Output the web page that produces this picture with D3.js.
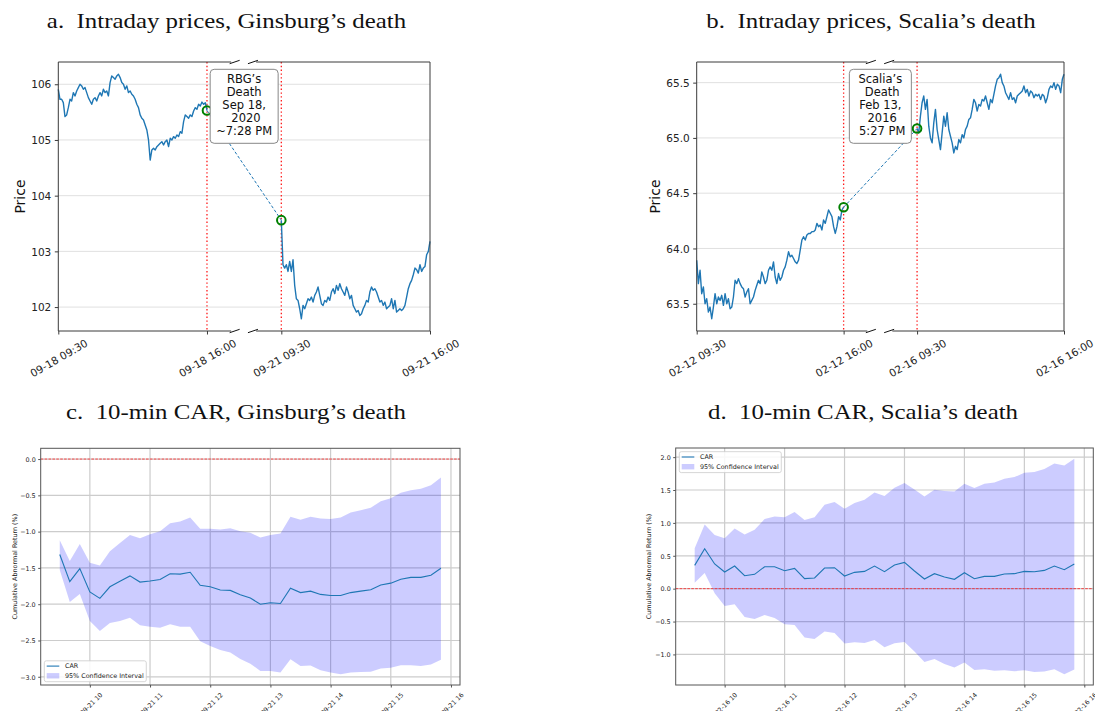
<!DOCTYPE html>
<html>
<head>
<meta charset="utf-8">
<script src="https://cdn.jsdelivr.net/npm/d3@7"></script>
<style>
  body { margin: 0; background: #fff; }
  svg { display: block; }
  text { font-family: "DejaVu Sans", sans-serif; }
  text.title { font-family: "Liberation Serif", "Times New Roman", serif; }
</style>
</head>
<body>
<svg id="chart" width="1095" height="711"></svg>
<script>
// ---------- Intraday prices around Ginsburg's death (two sessions) ----------
const rbgTickLabels = ["09-18 09:30", "09-18 16:00", "09-21 09:30", "09-21 16:00"];
const rbgDay1 = [105.91,105.73,105.73,105.67,105.42,105.45,105.58,105.73,105.70,105.85,
  105.79,105.88,105.94,106.00,105.97,105.91,105.94,105.85,105.76,105.70,
  105.64,105.73,105.76,105.70,105.79,105.85,105.79,105.91,105.85,105.88,
  105.79,106.03,106.15,106.12,106.09,106.15,106.18,106.12,106.03,106.00,
  105.91,105.97,105.85,105.88,105.82,105.79,105.73,105.64,105.58,105.45,
  105.39,105.36,105.27,105.18,105.00,104.64,104.82,104.85,104.82,104.88,
  104.91,104.94,104.97,104.91,104.97,105.00,104.88,105.03,105.00,105.06,
  105.03,105.09,105.06,105.15,105.12,105.33,105.45,105.42,105.39,105.45,
  105.42,105.52,105.58,105.55,105.64,105.61,105.68,105.64,105.67,105.53];
const rbgDay2 = [103.56,102.76,102.70,102.76,102.64,102.82,102.64,102.85,102.39,102.15,
  102.12,101.97,101.79,102.03,101.97,102.06,102.15,102.12,102.18,102.09,
  102.21,102.27,102.36,102.21,102.06,102.03,102.12,102.09,102.18,102.12,
  102.27,102.33,102.24,102.39,102.30,102.42,102.33,102.27,102.21,102.36,
  102.27,102.15,102.21,102.03,101.97,101.91,101.94,101.85,101.88,101.97,
  102.03,102.12,102.09,102.27,102.36,102.30,102.33,102.27,102.18,102.09,
  102.12,102.03,102.09,101.97,102.00,102.03,102.15,101.97,102.12,101.91,
  101.94,101.97,101.94,101.97,102.03,102.18,102.33,102.42,102.48,102.58,
  102.70,102.67,102.61,102.76,102.64,102.70,102.73,102.94,103.00,103.18];
const rbgNote = ["RBG\u2019s", "Death", "Sep 18,", " 2020", "~7:28 PM"];

// ---------- Intraday prices around Scalia's death ----------
const scaliaTickLabels = ["02-12 09:30", "02-12 16:00", "02-16 09:30", "02-16 16:00"];
const scaliaDay1 = [63.894,63.682,63.803,63.591,63.652,63.500,63.545,63.424,63.470,63.364,
  63.470,63.591,63.500,63.561,63.530,63.576,63.485,63.591,63.500,63.545,
  63.455,63.470,63.561,63.712,63.682,63.727,63.682,63.652,63.636,63.561,
  63.606,63.636,63.500,63.530,63.561,63.621,63.667,63.712,63.682,63.788,
  63.742,63.682,63.712,63.803,63.833,63.803,63.879,63.742,63.682,63.773,
  63.712,63.742,63.803,63.833,63.894,63.970,63.924,63.939,63.909,63.879,
  63.864,63.894,63.985,64.076,64.106,64.076,64.121,64.136,64.136,64.152,
  64.152,64.167,64.227,64.197,64.212,64.167,64.258,64.227,64.288,64.348,
  64.318,64.288,64.197,64.136,64.197,64.288,64.258,64.348,64.373];
const scaliaDay2 = [65.085,65.045,65.197,65.318,65.379,65.258,65.348,65.106,65.000,64.955,
  65.136,65.258,65.076,64.985,64.894,65.045,65.197,65.106,65.227,65.076,
  65.015,64.955,64.864,64.924,64.894,64.985,64.955,65.030,65.000,65.076,
  65.106,65.167,65.182,65.258,65.348,65.318,65.242,65.303,65.288,65.348,
  65.333,65.379,65.318,65.258,65.348,65.318,65.394,65.470,65.530,65.545,
  65.576,65.500,65.470,65.409,65.379,65.348,65.409,65.348,65.364,65.318,
  65.379,65.394,65.409,65.424,65.470,65.409,65.439,65.379,65.424,65.409,
  65.364,65.394,65.379,65.394,65.348,65.394,65.379,65.318,65.364,65.439,
  65.470,65.455,65.500,65.439,65.485,65.470,65.409,65.530,65.576];
const scaliaNote = ["Scalia\u2019s", " Death", "Feb 13,", " 2016", " 5:27 PM"];

// ---------- 10-minute cumulative abnormal returns ----------
const carTimes = ["09:30","09:40","09:50","10:00","10:10","10:20","10:30","10:40","10:50",
  "11:00","11:10","11:20","11:30","11:40","11:50","12:00","12:10","12:20","12:30","12:40",
  "12:50","13:00","13:10","13:20","13:30","13:40","13:50","14:00","14:10","14:20","14:30",
  "14:40","14:50","15:00","15:10","15:20","15:30","15:40","15:50"];
const rbgHourLabels = ["09-21 10","09-21 11","09-21 12","09-21 13","09-21 14","09-21 15","09-21 16"];
const scaliaHourLabels = ["02-16 10","02-16 11","02-16 12","02-16 13","02-16 14","02-16 15","02-16 16"];

const rbgCar = [-1.315,-1.69,-1.51,-1.83,-1.92,-1.76,-1.685,-1.61,-1.695,-1.68,-1.66,-1.58,-1.585,
  -1.56,-1.74,-1.76,-1.805,-1.81,-1.87,-1.915,-2.00,-1.98,-1.99,-1.78,-1.84,-1.82,-1.865,
  -1.88,-1.88,-1.84,-1.82,-1.80,-1.735,-1.71,-1.655,-1.63,-1.63,-1.60,-1.505];
const rbgCarUpper = [-1.12,-1.405,-1.17,-1.43,-1.465,-1.27,-1.155,-1.045,-1.09,-1.035,-0.995,-0.885,
  -0.86,-0.805,-0.96,-0.96,-0.97,-0.955,-0.995,-1.015,-1.08,-1.045,-1.025,-0.795,-0.835,-0.795,
  -0.82,-0.825,-0.805,-0.735,-0.705,-0.67,-0.58,-0.54,-0.465,-0.43,-0.41,-0.36,-0.255];
const rbgCarLower = [-1.53,-1.97,-1.86,-2.23,-2.37,-2.26,-2.23,-2.185,-2.29,-2.31,-2.325,-2.275,
  -2.31,-2.31,-2.51,-2.575,-2.63,-2.665,-2.755,-2.82,-2.92,-2.92,-2.94,-2.76,-2.85,-2.845,
  -2.91,-2.94,-2.965,-2.94,-2.935,-2.93,-2.885,-2.875,-2.84,-2.84,-2.85,-2.83,-2.765];

const scaliaCar = [0.354,0.608,0.375,0.253,0.344,0.197,0.218,0.334,0.334,0.273,0.309,0.152,0.162,
  0.314,0.319,0.192,0.248,0.263,0.344,0.258,0.359,0.40,0.268,0.147,0.228,0.177,0.142,0.243,
  0.152,0.187,0.187,0.223,0.228,0.263,0.258,0.278,0.344,0.289,0.375];
const scaliaCarUpper = [0.613,0.977,0.815,0.765,0.916,0.825,0.896,1.058,1.099,1.084,1.165,1.043,
  1.084,1.276,1.316,1.215,1.301,1.352,1.463,1.408,1.534,1.605,1.509,1.403,1.504,1.484,1.478,
  1.595,1.529,1.595,1.615,1.671,1.696,1.762,1.772,1.818,1.904,1.873,1.975];
const scaliaCarLower = [0.091,0.238,-0.071,-0.263,-0.238,-0.43,-0.461,-0.40,-0.446,-0.542,-0.552,
  -0.744,-0.765,-0.653,-0.673,-0.835,-0.815,-0.825,-0.78,-0.891,-0.830,-0.81,-0.957,-1.114,
  -1.068,-1.144,-1.2,-1.124,-1.235,-1.225,-1.25,-1.24,-1.256,-1.24,-1.266,-1.261,-1.225,-1.301,-1.23];

// ---------- drawing ----------
const svg = d3.select("#chart");
const BLUE = "#1f77b4";
const SESSION = 390;      // minutes per trading session
const GAP = 195;          // compressed overnight gap on the x axis

// Panel captions: a wide book face is approximated by stretching the serif glyphs.
function addTitle(prefix, rest, cx, y) {
  const t = svg.append("text").attr("class", "title")
    .attr("x", cx).attr("y", y).attr("font-size", 22).attr("fill", "#111")
    .attr("text-anchor", "middle").style("white-space", "pre")
    .text(prefix + "\u2002" + rest);
  const w = t.node().getComputedTextLength();
  t.attr("textLength", w * 1.13).attr("lengthAdjust", "spacingAndGlyphs");
}

function styleAxis(g, color, size) {
  g.attr("font-size", size).attr("font-family", null);
  g.select(".domain").remove();
  g.selectAll(".tick line").attr("stroke", color);
  g.selectAll(".tick text").attr("fill", "#222");
}

function pricePanel(o) {
  const g = svg.append("g");
  const x = d3.scaleLinear().domain([0, 2 * SESSION + GAP]).range([o.left, o.right]);
  const [lo, hi] = d3.extent(o.day1.concat(o.day2));
  const pad = (hi - lo) * 0.05;
  const y = d3.scaleLinear().domain([lo - pad, hi + pad]).range([o.bottom, o.top]);
  const yTicks = y.ticks(5);

  g.append("g").selectAll("line").data(yTicks).join("line")
    .attr("x1", o.left).attr("x2", o.right)
    .attr("y1", d => y(d)).attr("y2", d => y(d))
    .attr("stroke", "#e0e0e0").attr("stroke-width", 1);

  const close1 = SESSION, open2 = SESSION + GAP;
  g.append("g").selectAll("line").data([close1, open2]).join("line")
    .attr("x1", d => x(d)).attr("x2", d => x(d))
    .attr("y1", o.top).attr("y2", o.bottom)
    .attr("stroke", "#ff1a1a").attr("stroke-width", 1.3)
    .attr("stroke-dasharray", "1.4,2.4");

  const s1 = o.day1.map((v, i) => [i * SESSION / (o.day1.length - 1), v]);
  const s2 = o.day2.map((v, i) => [open2 + i * SESSION / (o.day2.length - 1), v]);
  const line = d3.line().x(d => x(d[0])).y(d => y(d[1]));
  [s1, s2].forEach(s => g.append("path").datum(s).attr("d", line)
    .attr("fill", "none").attr("stroke", BLUE).attr("stroke-width", 1.4)
    .attr("stroke-linejoin", "round"));

  const ends = [s1[s1.length - 1], s2[0]];
  g.append("path").datum(ends).attr("d", line)
    .attr("fill", "none").attr("stroke", BLUE).attr("stroke-width", 1)
    .attr("stroke-dasharray", "3,2");
  g.append("g").selectAll("circle").data(ends).join("circle")
    .attr("cx", d => x(d[0])).attr("cy", d => y(d[1])).attr("r", 4.3)
    .attr("fill", "none").attr("stroke", "#008000").attr("stroke-width", 2);

  // event note box
  const midX = x((close1 + open2) / 2);
  const note = g.append("g");
  const lineH = 13, boxTop = o.top + 7.3;
  const txt = note.selectAll("text").data(o.note).join("text")
    .attr("x", midX).attr("y", (d, i) => boxTop + 10 + i * lineH)
    .attr("text-anchor", "middle").attr("dominant-baseline", "central")
    .attr("font-size", 11.5).attr("fill", "#111").style("white-space", "pre")
    .text(d => d);
  const maxW = d3.max(txt.nodes(), n => n.getComputedTextLength());
  note.insert("rect", "text")
    .attr("x", midX - maxW / 2 - 6).attr("y", boxTop)
    .attr("width", maxW + 12).attr("height", o.note.length * lineH + 9)
    .attr("rx", 4).attr("fill", "#fff").attr("stroke", "#888").attr("stroke-width", 1);

  // spines with break marks around the overnight gap
  const sp = g.append("g").attr("stroke", "#3a3a3a").attr("stroke-width", 1).attr("fill", "none");
  sp.append("line").attr("x1", o.left).attr("x2", o.left).attr("y1", o.top).attr("y2", o.bottom);
  sp.append("line").attr("x1", o.right).attr("x2", o.right).attr("y1", o.top).attr("y2", o.bottom);
  [o.top, o.bottom].forEach(yy => {
    sp.append("line").attr("x1", o.left).attr("x2", midX - 13).attr("y1", yy).attr("y2", yy);
    sp.append("line").attr("x1", midX + 12).attr("x2", o.right).attr("y1", yy).attr("y2", yy);
    [[-14.5, -4.5], [3.8, 13.8]].forEach(([a, b]) =>
      sp.append("line").attr("x1", midX + a).attr("y1", yy + 1.7)
        .attr("x2", midX + b).attr("y2", yy - 1.7).attr("stroke", "#111"));
  });

  const xa = g.append("g").attr("transform", `translate(0,${o.bottom})`)
    .call(d3.axisBottom(x).tickValues([0, close1, open2, 2 * SESSION + GAP])
      .tickFormat((d, i) => o.tickLabels[i]).tickSize(3.5));
  styleAxis(xa, "#3a3a3a", 10.5);
  xa.selectAll(".tick text").attr("y", null).attr("dy", null)
    .attr("text-anchor", "middle").attr("dominant-baseline", "central")
    .attr("transform", "translate(0,27) rotate(-30)");

  const ya = g.append("g").attr("transform", `translate(${o.left},0)`)
    .call(d3.axisLeft(y).tickValues(yTicks).tickFormat(d3.format(o.yFmt))
      .tickSize(3.5).tickPadding(3.5));
  styleAxis(ya, "#3a3a3a", 10.5);
  ya.selectAll(".tick text").attr("dy", "0.35em");

  g.append("text").attr("transform", `translate(${o.labelX},${(o.top + o.bottom) / 2}) rotate(-90)`)
    .attr("text-anchor", "middle").attr("dominant-baseline", "central")
    .attr("font-size", 14).attr("fill", "#111").text("Price");
}

function carPanel(o) {
  const g = svg.append("g");
  const toMin = s => { const [h, m] = s.split(":").map(Number); return h * 60 + m - 570; };
  const t = carTimes.map(toMin);
  const [t0, t1] = d3.extent(t);
  const xp = (t1 - t0) * 0.05;
  const x = d3.scaleLinear().domain([t0 - xp, t1 + xp]).range([o.left, o.right]);
  const [lo, hi] = d3.extent(o.lower.concat(o.upper, [0]));
  const yp = (hi - lo) * 0.05;
  const y = d3.scaleLinear().domain([lo - yp, hi + yp]).range([o.bottom, o.top]);
  const yTicks = y.ticks(7);
  const hourTicks = o.hourLabels.map((d, i) => 30 + 60 * i);

  const grid = g.append("g").attr("stroke", "#cccccc").attr("stroke-width", 1.2);
  grid.selectAll(".gx").data(hourTicks).join("line").attr("class", "gx")
    .attr("x1", d => x(d)).attr("x2", d => x(d)).attr("y1", o.top).attr("y2", o.bottom);
  grid.selectAll(".gy").data(yTicks).join("line").attr("class", "gy")
    .attr("x1", o.left).attr("x2", o.right).attr("y1", d => y(d)).attr("y2", d => y(d));

  const rows = t.map((m, i) => ({ m, car: o.car[i], lo: o.lower[i], hi: o.upper[i] }));
  g.append("path").datum(rows)
    .attr("d", d3.area().x(d => x(d.m)).y0(d => y(d.lo)).y1(d => y(d.hi)))
    .attr("fill", "rgba(0,0,255,0.2)");
  g.append("path").datum(rows)
    .attr("d", d3.line().x(d => x(d.m)).y(d => y(d.car)))
    .attr("fill", "none").attr("stroke", BLUE).attr("stroke-width", 1.1);
  g.append("line").attr("x1", o.left).attr("x2", o.right).attr("y1", y(0)).attr("y2", y(0))
    .attr("stroke", "#ff2020").attr("stroke-width", 0.8).attr("stroke-dasharray", "2.6,1.3");

  g.append("rect").attr("x", o.left).attr("y", o.top)
    .attr("width", o.right - o.left).attr("height", o.bottom - o.top)
    .attr("fill", "none").attr("stroke", "#555").attr("stroke-width", 1);

  const xa = g.append("g").attr("transform", `translate(0,${o.bottom})`)
    .call(d3.axisBottom(x).tickValues(hourTicks).tickFormat((d, i) => o.hourLabels[i]).tickSize(2.5));
  styleAxis(xa, "#555", 6.4);
  xa.selectAll(".tick text").attr("y", null).attr("dy", null)
    .attr("text-anchor", "middle").attr("dominant-baseline", "central")
    .attr("transform", "translate(1,19) rotate(-45)");

  const ya = g.append("g").attr("transform", `translate(${o.left},0)`)
    .call(d3.axisLeft(y).tickValues(yTicks).tickFormat(d3.format(".1f")).tickSize(2.5).tickPadding(2.5));
  styleAxis(ya, "#555", 6.4);
  ya.selectAll(".tick text").attr("dy", "0.35em");

  g.append("text").attr("transform", `translate(${o.labelX},${(o.top + o.bottom) / 2}) rotate(-90)`)
    .attr("text-anchor", "middle").attr("dominant-baseline", "central")
    .attr("font-size", 6.4).attr("fill", "#222").text("Cumulative Abnormal Return (%)");

  // legend
  const lg = g.append("g");
  const items = ["CAR", "95% Confidence Interval"];
  const lt = lg.selectAll("text").data(items).join("text")
    .attr("x", 20.7).attr("y", (d, i) => 5.3 + i * 9.8).attr("dominant-baseline", "central")
    .attr("font-size", 6.4).attr("fill", "#222").text(d => d);
  const tw = d3.max(lt.nodes(), n => n.getComputedTextLength());
  const bw = 20.7 + tw + 2.6, bh = 20.9;
  lg.insert("rect", "text").attr("x", 0).attr("y", 0).attr("width", bw).attr("height", bh)
    .attr("rx", 2).attr("fill", "rgba(255,255,255,0.85)").attr("stroke", "#cccccc").attr("stroke-width", 0.8);
  lg.append("line").attr("x1", 2.4).attr("x2", 15).attr("y1", 5.3).attr("y2", 5.3)
    .attr("stroke", BLUE).attr("stroke-width", 1.1);
  lg.append("rect").attr("x", 2.4).attr("y", 12.3).attr("width", 12.6).attr("height", 5.4)
    .attr("fill", "rgba(0,0,255,0.2)");
  const ly = o.legendBottom ? o.bottom - 3.3 - bh : o.top + 3.7;
  lg.attr("transform", `translate(${o.left + 3.6},${ly})`);
}

pricePanel({ left: 58.3, right: 430, top: 62, bottom: 331, labelX: 20,
  day1: rbgDay1, day2: rbgDay2, tickLabels: rbgTickLabels, yFmt: "d", note: rbgNote });
pricePanel({ left: 696.7, right: 1064, top: 62, bottom: 331, labelX: 655,
  day1: scaliaDay1, day2: scaliaDay2, tickLabels: scaliaTickLabels, yFmt: ".1f", note: scaliaNote });
carPanel({ left: 40.7, right: 460, top: 448.3, bottom: 685, labelX: 14.7, legendBottom: true,
  car: rbgCar, lower: rbgCarLower, upper: rbgCarUpper, hourLabels: rbgHourLabels });
carPanel({ left: 675.7, right: 1093.3, top: 448, bottom: 685, labelX: 649, legendBottom: false,
  car: scaliaCar, lower: scaliaCarLower, upper: scaliaCarUpper, hourLabels: scaliaHourLabels });

addTitle("a.", "Intraday prices, Ginsburg\u2019s death", 226.5, 28);
addTitle("b.", "Intraday prices, Scalia\u2019s death", 871, 28);
addTitle("c.", "10-min CAR, Ginsburg\u2019s death", 236, 419);
addTitle("d.", "10-min CAR, Scalia\u2019s death", 863, 419);
</script>
</body>
</html>
